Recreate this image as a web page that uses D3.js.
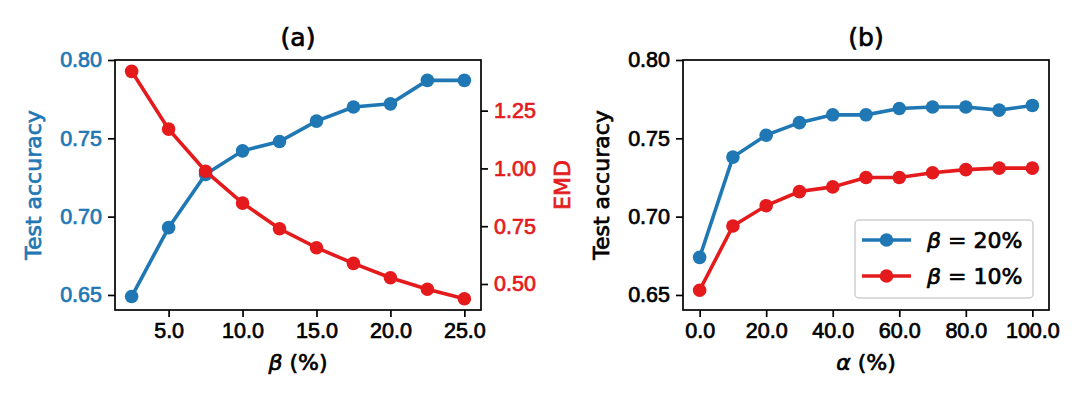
<!DOCTYPE html>
<html>
<head>
<meta charset="utf-8">
<script src="https://cdn.jsdelivr.net/npm/d3@7"></script>
<style>
  html, body { margin: 0; padding: 0; background: #fff; }
  svg { display: block; font-family: 'DejaVu Sans', sans-serif; }
  /* the reference is a soft, upscaled raster: thicken glyphs a little */
  svg text { stroke: currentColor; stroke-width: 0.7px; paint-order: stroke; }
</style>
</head>
<body>
<div id="chart"></div>
<script>
// panel (a): accuracy and EMD vs beta
const betaPct = [2.5, 5, 7.5, 10, 12.5, 15, 17.5, 20, 22.5, 25];
const accA = [0.649, 0.693, 0.727, 0.742, 0.748, 0.761, 0.770, 0.772, 0.787, 0.787];
const emdA = [1.420, 1.170, 0.988, 0.850, 0.739, 0.657, 0.589, 0.527, 0.477, 0.436];
const betaTicks = [5, 10, 15, 20, 25];
const accTicks = [0.65, 0.70, 0.75, 0.80];
const emdTicks = [0.50, 0.75, 1.00, 1.25];

// panel (b): accuracy vs alpha for two betas
const alphaPct = [0, 10, 20, 30, 40, 50, 60, 70, 80, 90, 100];
const acc20 = [0.674, 0.738, 0.752, 0.760, 0.765, 0.765, 0.769, 0.770, 0.770, 0.768, 0.771];
const acc10 = [0.653, 0.694, 0.707, 0.716, 0.719, 0.725, 0.725, 0.728, 0.730, 0.731, 0.731];
const alphaTicks = [0, 20, 40, 60, 80, 100];
const legendLabels = ['20%', '10%'];

const BLUE = '#1f77b4';
const RED = '#e41a1c';

const width = 1080, height = 393;
const plotTop = 60, plotBottom = 310;

const svg = d3.select('#chart').append('svg')
  .attr('width', width)
  .attr('height', height)
  .style('color', '#000');

function styleAxis(g, color) {
  g.selectAll('.domain').remove();
  g.selectAll('.tick line').attr('stroke', '#000').attr('stroke-width', 1.7);
  g.selectAll('.tick text').attr('fill', color).style('color', color).style('font-size', '21.5px');
}

function drawSeries(g, x, y, xs, ys, color) {
  const line = d3.line().x((d, i) => x(xs[i])).y(d => y(d));
  g.append('path')
    .datum(ys)
    .attr('d', line)
    .attr('fill', 'none')
    .attr('stroke', color)
    .attr('stroke-width', 3.6);
  g.selectAll(null)
    .data(ys)
    .join('circle')
    .attr('cx', (d, i) => x(xs[i]))
    .attr('cy', d => y(d))
    .attr('r', 6.8)
    .attr('fill', color);
}

function frame(x0, x1) {
  svg.append('rect')
    .attr('x', x0).attr('y', plotTop)
    .attr('width', x1 - x0).attr('height', plotBottom - plotTop)
    .attr('fill', 'none')
    .attr('stroke', '#000')
    .attr('stroke-width', 1.7);
}

// ---------- panel (a) ----------
const ax0 = 115, ax1 = 481;
const xa = d3.scaleLinear().domain([1.375, 26.125]).range([ax0, ax1]);
const ya = d3.scaleLinear().domain([0.6404, 0.80]).range([plotBottom, plotTop]);
const ye = d3.scaleLinear().domain([0.3875, 1.469]).range([plotBottom, plotTop]);

svg.append('g')
  .attr('transform', `translate(0,${plotBottom})`)
  .call(d3.axisBottom(xa).tickValues(betaTicks).tickFormat(d3.format('.1f')).tickSize(7).tickPadding(6))
  .call(g => styleAxis(g, '#000'));

svg.append('g')
  .attr('transform', `translate(${ax0},0)`)
  .call(d3.axisLeft(ya).tickValues(accTicks).tickFormat(d3.format('.2f')).tickSize(7).tickPadding(6))
  .call(g => styleAxis(g, BLUE));

svg.append('g')
  .attr('transform', `translate(${ax1},0)`)
  .call(d3.axisRight(ye).tickValues(emdTicks).tickFormat(d3.format('.2f')).tickSize(7).tickPadding(6))
  .call(g => styleAxis(g, RED));

const pa = svg.append('g');
drawSeries(pa, xa, ya, betaPct, accA, BLUE);
drawSeries(pa, xa, ye, betaPct, emdA, RED);
frame(ax0, ax1);

svg.append('text')
  .attr('x', (ax0 + ax1) / 2).attr('y', 46)
  .attr('text-anchor', 'middle')
  .style('font-size', '25px')
  .text('(a)');

const xlabA = svg.append('text')
  .attr('x', (ax0 + ax1) / 2).attr('y', 370)
  .attr('text-anchor', 'middle')
  .style('font-size', '22px');
xlabA.append('tspan').style('font-style', 'italic').text('β');
xlabA.append('tspan').text(' (%)');

svg.append('text')
  .attr('transform', `translate(41,${(plotTop + plotBottom) / 2}) rotate(-90)`)
  .attr('text-anchor', 'middle')
  .attr('fill', BLUE).style('color', BLUE)
  .style('font-size', '22px')
  .text('Test accuracy');

svg.append('text')
  .attr('transform', `translate(570,${(plotTop + plotBottom) / 2}) rotate(-90)`)
  .attr('text-anchor', 'middle')
  .attr('fill', RED).style('color', RED)
  .style('font-size', '22px')
  .text('EMD');

// ---------- panel (b) ----------
const bx0 = 683, bx1 = 1049;
const xb = d3.scaleLinear().domain([-5, 105]).range([bx0, bx1]);
const yb = d3.scaleLinear().domain([0.6404, 0.80]).range([plotBottom, plotTop]);

svg.append('g')
  .attr('transform', `translate(0,${plotBottom})`)
  .call(d3.axisBottom(xb).tickValues(alphaTicks).tickFormat(d3.format('.1f')).tickSize(7).tickPadding(6))
  .call(g => styleAxis(g, '#000'));

svg.append('g')
  .attr('transform', `translate(${bx0},0)`)
  .call(d3.axisLeft(yb).tickValues(accTicks).tickFormat(d3.format('.2f')).tickSize(7).tickPadding(6))
  .call(g => styleAxis(g, '#000'));

const pb = svg.append('g');
drawSeries(pb, xb, yb, alphaPct, acc20, BLUE);
drawSeries(pb, xb, yb, alphaPct, acc10, RED);
frame(bx0, bx1);

svg.append('text')
  .attr('x', (bx0 + bx1) / 2).attr('y', 46)
  .attr('text-anchor', 'middle')
  .style('font-size', '25px')
  .text('(b)');

const xlabB = svg.append('text')
  .attr('x', (bx0 + bx1) / 2).attr('y', 370)
  .attr('text-anchor', 'middle')
  .style('font-size', '22px');
xlabB.append('tspan').style('font-style', 'italic').text('α');
xlabB.append('tspan').text(' (%)');

svg.append('text')
  .attr('transform', `translate(609,${(plotTop + plotBottom) / 2}) rotate(-90)`)
  .attr('text-anchor', 'middle')
  .style('font-size', '22px')
  .text('Test accuracy');

// legend
const legend = svg.append('g').attr('transform', 'translate(855,220)');
legend.append('rect')
  .attr('width', 178).attr('height', 78)
  .attr('rx', 4)
  .attr('fill', '#fff').attr('fill-opacity', 0.8)
  .attr('stroke', '#d0d0d0').attr('stroke-width', 1.5);

const items = legend.selectAll('.item')
  .data([BLUE, RED])
  .join('g')
  .attr('class', 'item')
  .attr('transform', (d, i) => `translate(0,${20 + i * 36})`);

items.append('line')
  .attr('x1', 7).attr('x2', 56)
  .attr('stroke', d => d).attr('stroke-width', 3.6);
items.append('circle')
  .attr('cx', 31.5).attr('r', 6.8)
  .attr('fill', d => d);
const lt = items.append('text')
  .attr('x', 72).attr('dy', '0.36em')
  .style('font-size', '22px');
lt.append('tspan').style('font-style', 'italic').text('β');
lt.append('tspan').text((d, i) => ` = ${legendLabels[i]}`);
</script>
</body>
</html>
